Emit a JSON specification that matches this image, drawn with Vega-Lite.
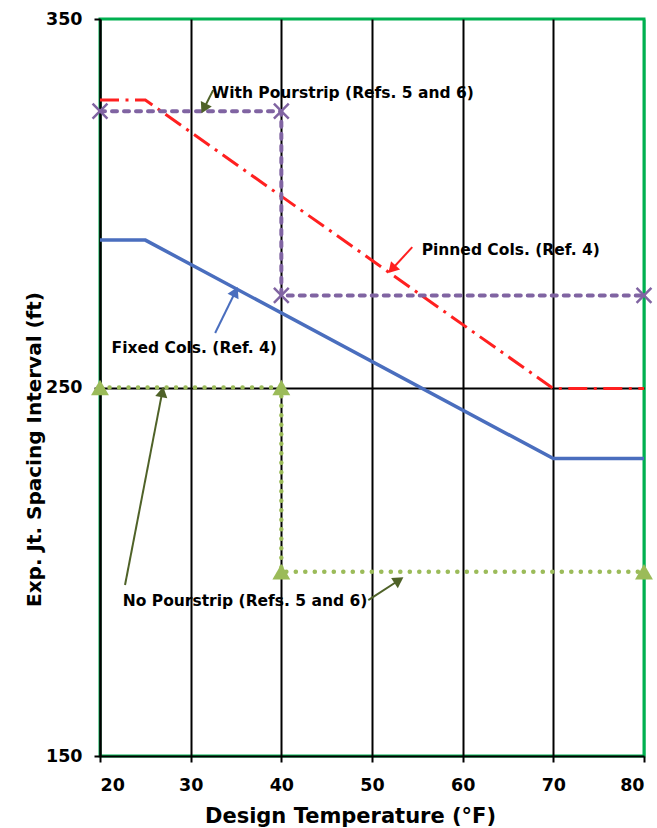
{
  "$schema": "https://vega.github.io/schema/vega-lite/v6.json",
  "width": 544,
  "height": 737,
  "autosize": {"type": "none"},
  "padding": {"left": 100, "top": 19, "right": 13, "bottom": 72},
  "background": "white",
  "config": {
    "view": {"stroke": "#00b050", "strokeWidth": 3},
    "font": "DejaVu Sans",
    "axis": {
      "labelFont": "DejaVu Sans", "labelFontWeight": "bold", "labelColor": "black",
      "titleFont": "DejaVu Sans", "titleFontWeight": "bold", "titleColor": "black",
      "domainColor": "black", "domainWidth": 2, "tickColor": "black", "tickWidth": 2,
      "gridWidth": 2
    }
  },
  "datasets": {
    "lines": [
      {"series": "pinned", "i": 1, "x": 20, "y": 328},
      {"series": "pinned", "i": 2, "x": 25, "y": 328},
      {"series": "pinned", "i": 3, "x": 70, "y": 249.7},
      {"series": "pinned", "i": 4, "x": 80, "y": 249.7},
      {"series": "fixed", "i": 1, "x": 20, "y": 290},
      {"series": "fixed", "i": 2, "x": 25, "y": 290},
      {"series": "fixed", "i": 3, "x": 70, "y": 230.7},
      {"series": "fixed", "i": 4, "x": 80, "y": 230.7},
      {"series": "with", "i": 1, "x": 20, "y": 325},
      {"series": "with", "i": 2, "x": 40, "y": 325},
      {"series": "with", "i": 3, "x": 40, "y": 275},
      {"series": "with", "i": 4, "x": 80, "y": 275},
      {"series": "no", "i": 1, "x": 20, "y": 250},
      {"series": "no", "i": 2, "x": 40, "y": 250},
      {"series": "no", "i": 3, "x": 40, "y": 200},
      {"series": "no", "i": 4, "x": 80, "y": 200}
    ],
    "labels": [
      {"text": "With Pourstrip (Refs. 5 and 6)", "x": 46.8, "y": 330},
      {"text": "Pinned Cols. (Ref. 4)", "x": 65.3, "y": 287.3},
      {"text": "Fixed Cols. (Ref. 4)", "x": 30.4, "y": 260.7},
      {"text": "No Pourstrip (Refs. 5 and 6)", "x": 36.0, "y": 192}
    ],
    "arrows": [
      {"id": "with", "x": 32.48, "y": 330.7, "x2": 31.46, "y2": 325.7},
      {"id": "pinned", "x": 54.44, "y": 288.1, "x2": 52.2, "y2": 282.1},
      {"id": "fixed", "x": 32.7, "y": 264.8, "x2": 34.93, "y2": 276.0},
      {"id": "noleft", "x": 22.76, "y": 196.4, "x2": 26.87, "y2": 248.8},
      {"id": "noright", "x": 49.59, "y": 192.3, "x2": 52.97, "y2": 197.7}
    ],
    "minor": [
      {"y": 170}, {"y": 190}, {"y": 210}, {"y": 230},
      {"y": 270}, {"y": 290}, {"y": 310}, {"y": 330}
    ]
  },
  "encoding": {
    "x": {
      "field": "x", "type": "quantitative",
      "scale": {"domain": [20, 80], "nice": false, "zero": false},
      "axis": {
        "title": "Design Temperature (°F)",
        "values": [20, 30, 40, 50, 60, 70, 80],
        "grid": true,
        "gridColor": {"condition": {"test": "datum.value === 80", "value": "#00b050"}, "value": "black"},
        "tickSize": 6, "labelPadding": 14, "labelFontSize": 17.5,
        "titleFontSize": 21, "titleX": 250, "titleY": 66, "titleBaseline": "alphabetic"
      }
    },
    "y": {
      "field": "y", "type": "quantitative",
      "scale": {"domain": [150, 350], "nice": false, "zero": false},
      "axis": {
        "title": "Exp. Jt. Spacing Interval (ft)",
        "values": [150, 250, 350],
        "grid": true,
        "gridColor": {"condition": {"test": "datum.value === 250", "value": "black"}, "value": "transparent"},
        "tickSize": 6, "labelPadding": 12, "labelFontSize": 17.5,
        "titleFontSize": 20, "titleX": -60, "titleY": 430, "titleBaseline": "alphabetic", "titleAngle": -90
      }
    }
  },
  "layer": [
    {
      "data": {"name": "minor"},
      "mark": {"type": "rule", "color": "black", "strokeWidth": 2},
      "encoding": {"x": {"datum": 20}, "x2": {"datum": 20.55}, "y": {"field": "y", "type": "quantitative"}}
    },
    {
      "data": {"name": "lines"},
      "transform": [{"filter": "datum.series === 'fixed'"}],
      "mark": {"type": "line", "color": "#4a6ebe", "strokeWidth": 3.5},
      "encoding": {"order": {"field": "i"}}
    },
    {
      "data": {"name": "lines"},
      "transform": [{"filter": "datum.series === 'pinned'"}],
      "mark": {"type": "line", "color": "#ff2020", "strokeWidth": 3, "strokeDash": [19, 6.5, 3, 6.5]},
      "encoding": {"order": {"field": "i"}}
    },
    {
      "data": {"name": "lines"},
      "transform": [{"filter": "datum.series === 'with'"}],
      "mark": {"type": "line", "color": "#8064a2", "strokeWidth": 4, "strokeDash": [5, 7], "strokeCap": "round"},
      "encoding": {"order": {"field": "i"}}
    },
    {
      "data": {"name": "lines"},
      "transform": [{"filter": "datum.series === 'no'"}],
      "mark": {"type": "line", "color": "#9bbb59", "strokeWidth": 4.5, "strokeDash": [0.1, 9.4], "strokeCap": "round"},
      "encoding": {"order": {"field": "i"}}
    },
    {
      "data": {"name": "lines"},
      "transform": [{"filter": "datum.series === 'with'"}],
      "mark": {"type": "point", "shape": "M-1,-1L1,1M1,-1L-1,1", "filled": false, "stroke": "#8064a2", "strokeWidth": 2.5, "size": 220, "opacity": 1}
    },
    {
      "data": {"name": "lines"},
      "transform": [{"filter": "datum.series === 'no'"}],
      "mark": {"type": "point", "shape": "triangle-up", "filled": true, "color": "#9bbb59", "size": 320, "opacity": 1}
    },
    {
      "data": {"name": "arrows"},
      "transform": [{"filter": "datum.id !== 'pinned' && datum.id !== 'fixed'"}],
      "mark": {"type": "rule", "color": "#4f6228", "strokeWidth": 2},
      "encoding": {"x2": {"field": "x2"}, "y2": {"field": "y2"}}
    },
    {
      "data": {"name": "arrows"},
      "transform": [{"filter": "datum.id === 'pinned'"}],
      "mark": {"type": "rule", "color": "#ff2020", "strokeWidth": 2},
      "encoding": {"x2": {"field": "x2"}, "y2": {"field": "y2"}}
    },
    {
      "data": {"name": "arrows"},
      "transform": [{"filter": "datum.id === 'fixed'"}],
      "mark": {"type": "rule", "color": "#4a6ebe", "strokeWidth": 2},
      "encoding": {"x2": {"field": "x2"}, "y2": {"field": "y2"}}
    },
    {
      "data": {"name": "arrows"},
      "transform": [{"filter": "datum.id === 'with'"}],
      "mark": {"type": "point", "shape": "triangle-up", "filled": true, "color": "#4f6228", "size": 150, "opacity": 1, "angle": 206.6},
      "encoding": {"x": {"field": "x2", "type": "quantitative"}, "y": {"field": "y2", "type": "quantitative"}}
    },
    {
      "data": {"name": "arrows"},
      "transform": [{"filter": "datum.id === 'pinned'"}],
      "mark": {"type": "point", "shape": "triangle-up", "filled": true, "color": "#ff2020", "size": 150, "opacity": 1, "angle": 222.6},
      "encoding": {"x": {"field": "x2", "type": "quantitative"}, "y": {"field": "y2", "type": "quantitative"}}
    },
    {
      "data": {"name": "arrows"},
      "transform": [{"filter": "datum.id === 'fixed'"}],
      "mark": {"type": "point", "shape": "triangle-up", "filled": true, "color": "#4a6ebe", "size": 150, "opacity": 1, "angle": 26},
      "encoding": {"x": {"field": "x2", "type": "quantitative"}, "y": {"field": "y2", "type": "quantitative"}}
    },
    {
      "data": {"name": "arrows"},
      "transform": [{"filter": "datum.id === 'noleft'"}],
      "mark": {"type": "point", "shape": "triangle-up", "filled": true, "color": "#4f6228", "size": 150, "opacity": 1, "angle": 10.9},
      "encoding": {"x": {"field": "x2", "type": "quantitative"}, "y": {"field": "y2", "type": "quantitative"}}
    },
    {
      "data": {"name": "arrows"},
      "transform": [{"filter": "datum.id === 'noright'"}],
      "mark": {"type": "point", "shape": "triangle-up", "filled": true, "color": "#4f6228", "size": 150, "opacity": 1, "angle": 57.1},
      "encoding": {"x": {"field": "x2", "type": "quantitative"}, "y": {"field": "y2", "type": "quantitative"}}
    },
    {
      "data": {"name": "labels"},
      "mark": {"type": "text", "font": "DejaVu Sans", "fontWeight": "bold", "fontSize": 15.5, "color": "black", "align": "center", "baseline": "middle"},
      "encoding": {"text": {"field": "text"}}
    }
  ]
}
